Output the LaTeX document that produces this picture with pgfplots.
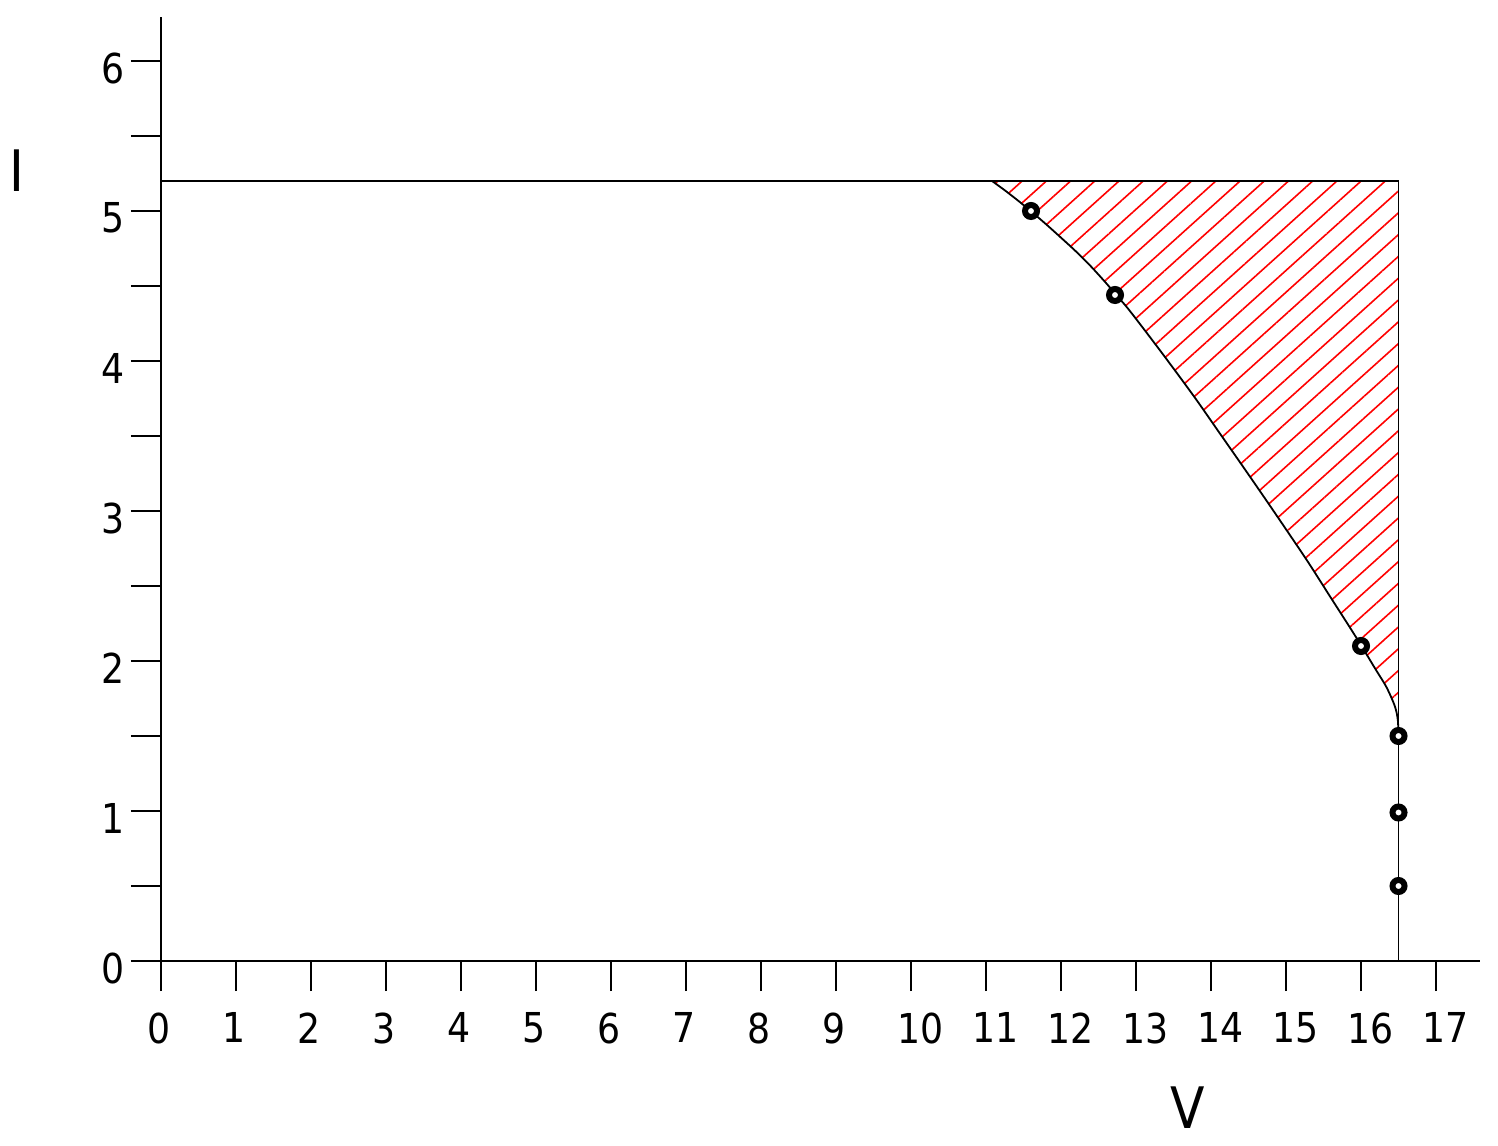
\documentclass[border=0pt]{standalone}
\usepackage{pgfplots}
\pgfplotsset{compat=1.18}
\usetikzlibrary{patterns.meta}
\usepackage{fontspec}
\setmainfont{DejaVu Sans}[FakeStretch=0.88]
\begin{document}
\begin{tikzpicture}
\useasboundingbox (-40.25pt,-46pt) rectangle (334.25pt,240.25pt);
\begin{axis}[
  anchor=origin, at={(0,0)},
  x=18.75pt, y=37.5pt,
  xmin=0, xmax=17.587, ymin=0, ymax=6.293,
  enlargelimits=false,
  clip=false,
  axis x line=bottom, axis y line=left,
  axis line style={-, black, line width=0.4pt},
  tick align=outside,
  major tick length=7.5pt,
  tick style={black, line width=0.4pt},
  xtick={0,1,2,3,4,5,6,7,8,9,10,11,12,13,14,15,16,17},
  ytick={0,0.5,1,1.5,2,2.5,3,3.5,4,4.5,5,5.5,6},
  yticklabels={0,,1,,2,,3,,4,,5,,6},
  /pgf/number format/assume math mode=true,
  ticklabel style={font=\fontsize{10.3}{12}\selectfont},
  xticklabel style={anchor=north west, inner sep=0pt, xshift=-3.6pt, yshift=-5.2pt},
  yticklabel style={anchor=east, inner sep=0pt, xshift=-1.5pt, yshift=-1.8pt},
]
\addplot[draw=none, pattern={Lines[angle=42,distance=4.05pt,line width=0.4pt]}, pattern color=red]
 coordinates {(11.08,5.2) (11.25,5.138) (11.43,5.068) (11.6,4.998) (11.8,4.912) (12.0,4.822) (12.2,4.73) (12.4,4.63) (12.6,4.52) (12.72,4.45) (12.9,4.345) (13.2,4.15) (13.5,3.95) (13.8,3.745) (14.1,3.53) (14.4,3.315) (14.7,3.098) (15.0,2.878) (15.3,2.655) (15.6,2.42) (15.85,2.225) (16.0,2.105) (16.2,1.94) (16.34,1.825) (16.45,1.70) (16.49,1.61) (16.5,1.5) (16.5,5.2)} -- cycle;
\addplot[black, line width=0.45pt] coordinates {(0,5.2) (16.5,5.2) (16.5,0)};
\addplot[black, line width=0.45pt, smooth] coordinates {(11.08,5.2) (11.25,5.138) (11.43,5.068) (11.6,4.998) (11.8,4.912) (12.0,4.822) (12.2,4.73) (12.4,4.63) (12.6,4.52) (12.72,4.45) (12.9,4.345) (13.2,4.15) (13.5,3.95) (13.8,3.745) (14.1,3.53) (14.4,3.315) (14.7,3.098) (15.0,2.878) (15.3,2.655) (15.6,2.42) (15.85,2.225) (16.0,2.105) (16.2,1.94) (16.34,1.825) (16.45,1.70) (16.49,1.61) (16.5,1.5)};
\addplot[only marks, mark=*, mark size=1.5pt, mark options={fill=white, draw=black, line width=1.5pt}]
 coordinates {(11.6,5.0) (12.72,4.44) (16.0,2.1) (16.5,1.5) (16.5,0.99) (16.5,0.5)};
\node[font=\fontsize{14.3}{16}\selectfont, inner sep=0pt] at (axis cs:13.69,-0.98) {V};
\node[font=\fontsize{14.3}{16}\selectfont, inner sep=0pt] at (axis cs:-1.92,5.27) {I};
\end{axis}
\end{tikzpicture}
\end{document}
